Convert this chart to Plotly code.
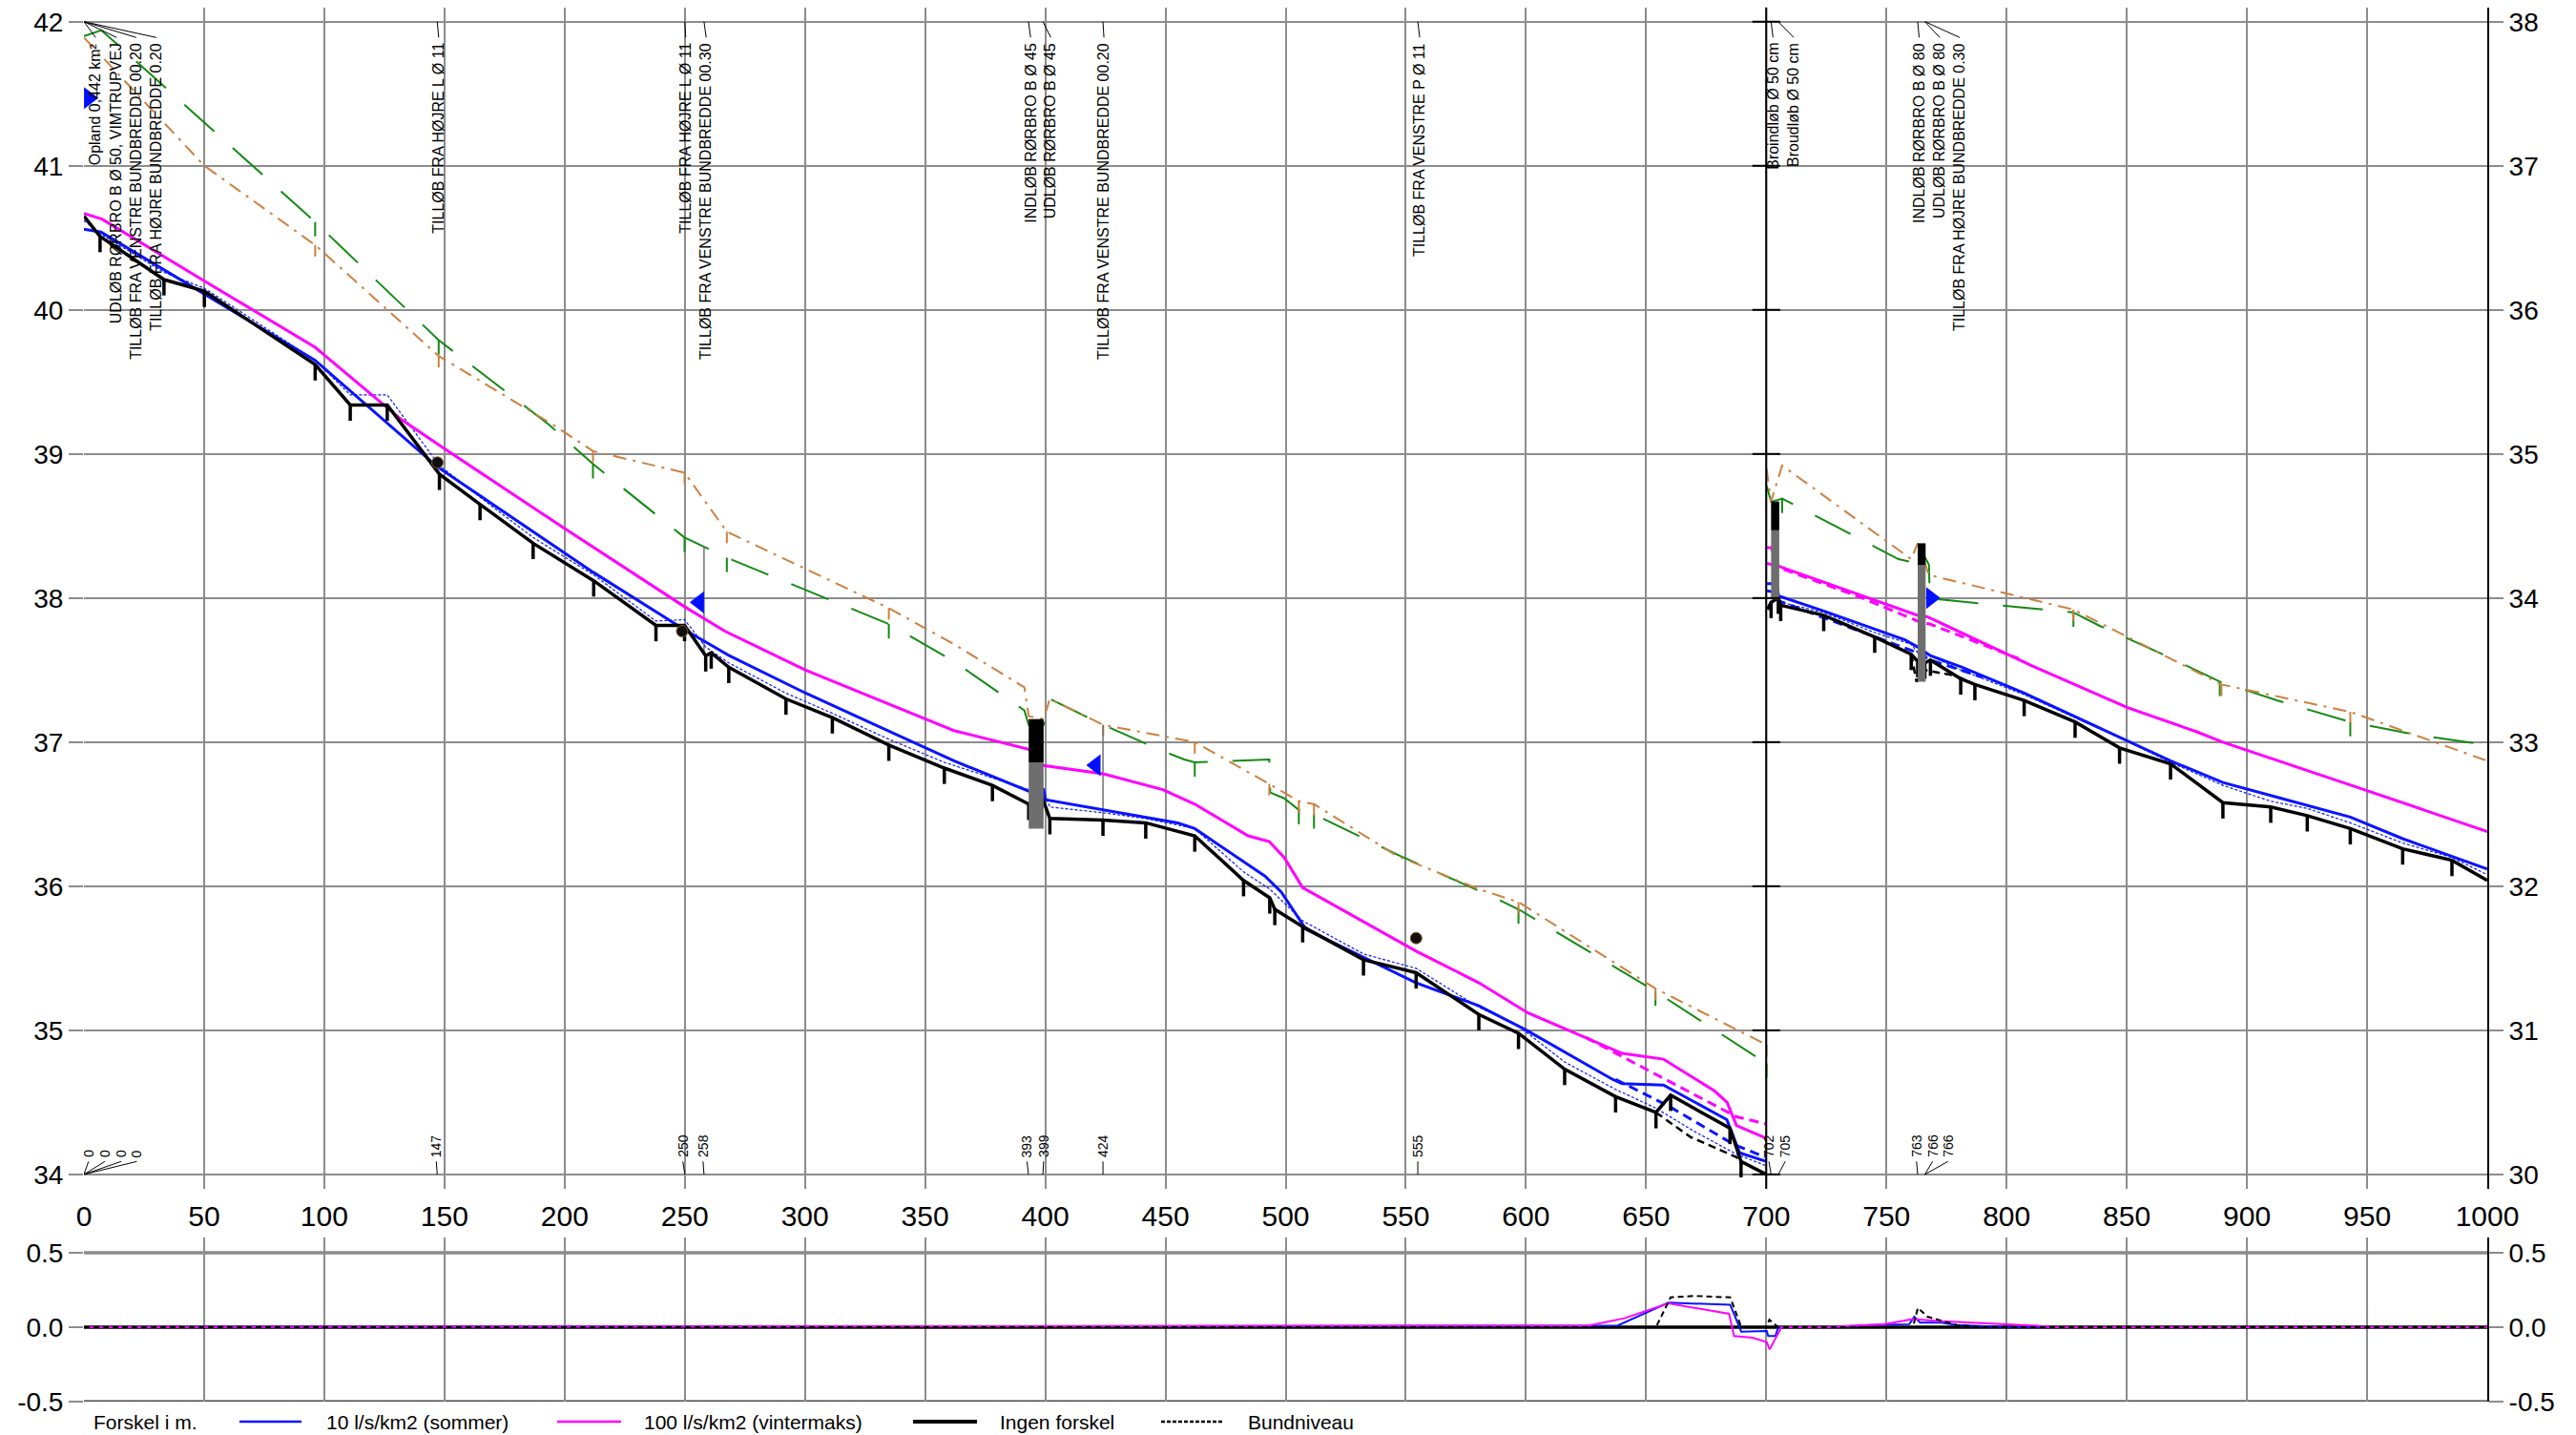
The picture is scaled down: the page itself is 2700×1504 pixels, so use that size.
import plotly.graph_objects as go
import numpy as np

# ---------------- DATA: left sheet (station 0-700, left axis) ----------------
bed_L_x = [0, 6.7, 33.3, 50.1, 96.2, 110.8, 126.2, 147.9, 164.8, 186.9, 212.1, 238.0, 249.9, 258.7, 261.0,
           268.3, 292.1, 311.4, 334.9, 358.0, 378.0, 393.1, 398.4, 401.9, 424.0, 441.8, 462.2, 482.5, 493.4,
           495.5, 507.1, 532.4, 554.3, 580.4, 596.9, 616.1, 637.3, 654.1, 660.2, 684.9, 689.5, 700.0]
bed_L_y = [40.65, 40.51, 40.21, 40.13, 39.62, 39.34, 39.34, 38.86, 38.65, 38.38, 38.12, 37.81, 37.81, 37.60, 37.62,
           37.52, 37.30, 37.17, 36.98, 36.82, 36.70, 36.57, 36.63, 36.47, 36.46, 36.44, 36.35, 36.04, 35.92,
           35.84, 35.72, 35.49, 35.40, 35.11, 34.98, 34.73, 34.54, 34.43, 34.55, 34.32, 34.09, 34.00]

q10_L_x = [0, 7.1, 50.1, 96.2, 147.1, 211.8, 249.9, 268.5, 300.3, 362.0, 393.1, 399.3, 400.2, 424.1, 455.1,
           462.2, 479.9, 491.4, 498.2, 508.5, 554.3, 580.4, 600.3, 636.0, 640.0, 657.2, 683.6, 688.9, 700.1]
q10_L_y = [40.56, 40.54, 40.11, 39.65, 38.91, 38.18, 37.78, 37.60, 37.34, 36.87, 36.66, 36.67, 36.60, 36.53, 36.44,
           36.40, 36.20, 36.07, 35.96, 35.70, 35.33, 35.17, 35.00, 34.66, 34.63, 34.62, 34.38, 34.15, 34.09]

q100_L_x = [0, 7.5, 50.1, 96.2, 101.9, 132.0, 149.7, 199.3, 249.9, 266.7, 300.3, 362.0, 393.1, 398.4, 424.1,
            448.9, 462.2, 484.4, 493.2, 499.4, 507.1, 554.3, 580.4, 600.9, 640.1, 657.2, 678.4, 683.7, 687.6, 700.1]
q100_L_y = [40.67, 40.63, 40.20, 39.74, 39.66, 39.24, 39.04, 38.49, 37.94, 37.77, 37.50, 37.08, 36.95, 36.84, 36.78,
            36.67, 36.57, 36.35, 36.31, 36.20, 35.99, 35.55, 35.33, 35.12, 34.84, 34.80, 34.58, 34.50, 34.34, 34.25]

thin_L_x = [0, 6.7, 33.3, 50.1, 96.2, 110.8, 126.2, 147.9, 164.8, 186.9, 212.1, 238.0, 249.9, 258.7, 268.3,
            292.1, 311.4, 334.9, 358.0, 393.1, 398.4, 401.9, 424.0, 441.8, 462.2, 482.5, 493.4, 507.1, 532.4,
            554.3, 580.4, 596.9, 616.1, 637.3, 654.1, 669.9, 687.6, 700.0]
thin_L_y = [40.62, 40.53, 40.26, 40.15, 39.65, 39.41, 39.41, 38.92, 38.70, 38.42, 38.16, 37.84, 37.85, 37.66, 37.55,
            37.34, 37.20, 37.02, 36.86, 36.67, 36.68, 36.55, 36.51, 36.47, 36.40, 36.10, 35.98, 35.76, 35.53,
            35.43, 35.16, 35.03, 34.78, 34.59, 34.46, 34.30, 34.14, 34.06]

green_L_x = [0, 7.2, 14.7, 50.1, 96.2, 147.6, 193.7, 211.8, 249.9, 267.5, 334.9, 362.0, 391.3, 393.1, 399.3,
             401.9, 424.1, 447.1, 457.8, 462.2, 493.2, 493.6, 499.4, 505.5, 511.8, 546.4, 585.7, 596.9, 626.7,
             653.9, 700.1]
green_L_y = [41.90, 41.94, 41.83, 41.30, 40.61, 39.79, 39.20, 38.93, 38.42, 38.28, 37.82, 37.56, 37.22, 37.12, 37.12,
             37.30, 37.12, 36.95, 36.88, 36.86, 36.88, 36.65, 36.61, 36.53, 36.50, 36.22, 35.93, 35.84, 35.54,
             35.27, 34.77]
green_L_ticks = [96.2, 147.6, 211.8, 249.9, 267.5, 334.9, 462.2, 505.5, 511.8, 596.9, 653.9, 700.1]

brown_L_x = [0, 50.1, 96.2, 147.6, 195.5, 211.8, 249.9, 267.5, 334.9, 362.0, 391.3, 393.1, 399.3, 401.9, 424.1,
             462.2, 493.2, 505.5, 511.8, 546.4, 580.4, 596.9, 653.9, 700.1]
brown_L_y = [41.89, 41.00, 40.45, 39.68, 39.20, 39.02, 38.87, 38.46, 37.93, 37.68, 37.38, 37.18, 37.16, 37.30, 37.12,
             37.00, 36.71, 36.59, 36.57, 36.21, 35.98, 35.89, 35.29, 34.90]
brown_L_ticks = [96.2, 147.6, 211.8, 249.9, 267.5, 334.9, 424.1, 462.2, 493.2, 505.5, 511.8, 596.9, 653.9, 700.1]

bedd_L_x = [654.1, 668.4, 687.6, 690.2]
bedd_L_y = [34.43, 34.26, 34.12, 34.07]
q10d_L_x = [637.3, 659.8, 686.3, 699.4]
q10d_L_y = [34.66, 34.47, 34.21, 34.12]
q100d_L_x = [625.0, 687.6, 700.1]
q100d_L_y = [34.95, 34.40, 34.35]

# ---------------- DATA: right sheet (station 700-1000, right axis) ----------------
bed_R_x = [700.5, 702.0, 705.0, 706.0, 723.9, 745.1, 760.3, 763.0, 766.0, 768.3, 780.9, 786.8, 807.3, 828.5,
           847.0, 868.2, 890.0, 909.9, 925.1, 943.0, 964.8, 985.3, 1000.0]
bed_R_y = [33.92, 33.97, 34.00, 33.95, 33.88, 33.73, 33.61, 33.56, 33.55, 33.57, 33.44, 33.40, 33.29, 33.14,
           32.96, 32.85, 32.58, 32.55, 32.49, 32.40, 32.26, 32.18, 32.04]

q10_R_x = [700.3, 702.0, 704.5, 705.2, 706.0, 723.9, 757.7, 763.0, 768.3, 781.5, 807.3, 828.5, 838.4, 868.2,
           890.0, 909.9, 943.0, 964.8, 985.3, 1000.0]
q10_R_y = [34.10, 34.10, 34.08, 34.01, 34.01, 33.91, 33.71, 33.66, 33.60, 33.52, 33.34, 33.18, 33.10, 32.87,
           32.72, 32.63, 32.48, 32.33, 32.21, 32.12]

q100_R_x = [700.3, 705.4, 763.0, 767.0, 810.6, 838.4, 850.3, 879.4, 890.0, 947.0, 1000.0]
q100_R_y = [34.24, 34.22, 33.88, 33.87, 33.53, 33.33, 33.24, 33.07, 33.00, 32.68, 32.38]

thin_R_x = [702.0, 705.0, 706.0, 723.9, 745.1, 760.3, 763.0, 768.3, 780.9, 807.3, 828.5, 847.0, 868.2, 890.0,
            909.9, 925.1, 943.0, 964.8, 985.3, 1000.0]
thin_R_y = [34.02, 33.98, 33.97, 33.90, 33.76, 33.68, 33.62, 33.60, 33.50, 33.33, 33.17, 33.03, 32.86, 32.70,
            32.59, 32.54, 32.44, 32.30, 32.20, 32.08]

green_R_x = [700.1, 702.0, 704.6, 706.6, 712.6, 755.0, 760.3, 763.0, 767.7, 768.0, 772.4, 827.8, 838.4, 866.2,
             888.7, 912.5, 943.0, 970.8, 1000.0]
green_R_y = [34.78, 34.67, 34.68, 34.69, 34.64, 34.27, 34.25, 34.38, 34.23, 33.99, 33.99, 33.90, 33.81, 33.60,
             33.42, 33.29, 33.14, 33.05, 32.98]
green_R_ticks = [706.6, 827.8, 888.7, 943.0]

brown_R_x = [700.1, 702.0, 706.6, 760.3, 763.0, 767.7, 827.8, 838.4, 889.4, 943.0, 1000.0]
brown_R_y = [34.90, 34.67, 34.92, 34.27, 34.38, 34.16, 33.92, 33.83, 33.40, 33.21, 32.87]
brown_R_ticks = [827.8, 889.4, 943.0]

q100d_R_x = [700.3, 702.0, 704.5, 705.5, 740.0, 763.0, 768.0, 805.0]
q100d_R_y = [34.35, 34.35, 34.25, 34.21, 34.00, 33.84, 33.82, 33.58]
q10d_R_x = [700.3, 704.0, 705.2, 763.0, 768.3, 790.0]
q10d_R_y = [34.05, 34.04, 33.98, 33.62, 33.57, 33.45]
bedd_R_x = [760.3, 762.5, 766.0, 779.0, 786.8]
bedd_R_y = [33.61, 33.42, 33.50, 33.46, 33.40]

# structures (culverts / bridge): x0, x1, top, split (black/grey), bottom, axis
struct_x0 = [393.1, 702.0, 763.0]
struct_x1 = [399.3, 705.4, 766.3]
struct_top = [37.16, 34.67, 34.38]
struct_mid = [36.86, 34.47, 34.23]
struct_bot = [36.40, 33.99, 33.42]
struct_axis = ["y", "y2", "y2"]

# markers
triL_x = [2.0, 256.0, 421.0]
triL_y = [41.47, 37.97, 36.84]
triL_sym = ["triangle-right", "triangle-left", "triangle-left"]
triR_x = [768.5]
triR_y = [34.00]
circ_x = [147.1, 248.9, 554.3]
circ_y = [38.94, 37.77, 35.64]
stline_x = [258.0, 424.0]
stline_top = [38.36, 37.12]
stline_bot = [37.60, 36.46]

# station labels
top_station = [0, 0, 0, 0, 147, 250, 258, 393, 399, 424, 555, 702, 705, 763, 766, 766]
top_text_x = [4.9, 13.6, 21.8, 30.1, 147.6, 250.4, 258.9, 393.9, 402.3, 424.4, 555.8, 702.8, 711.4, 763.6, 772.2, 780.5]
top_text = ["Opland 0,442 km²", "UDLØB RØRBRO B Ø 50, VIMTRUPVEJ", "TILLØB FRA VENSTRE BUNDBREDDE 00.20",
            "TILLØB FRA HØJRE BUNDBREDDE 0.20", "TILLØB FRA HØJRE L Ø 11", "TILLØB FRA HØJRE L Ø 11",
            "TILLØB FRA VENSTRE BUNDBREDDE 00.30", "INDLØB RØRBRO B Ø 45", "UDLØB RØRBRO B Ø 45",
            "TILLØB FRA VENSTRE BUNDBREDDE 00.20", "TILLØB FRA VENSTRE P Ø 11", "Broindløb Ø 50 cm",
            "Broudløb Ø 50 cm", "INDLØB RØRBRO B Ø 80", "UDLØB RØRBRO B Ø 80", "TILLØB FRA HØJRE BUNDBREDDE 0.30"]
bot_station = [0, 0, 0, 0, 147, 250, 258, 393, 399, 424, 555, 702, 705, 763, 766, 766]
bot_text_x = [1.9, 8.7, 15.5, 22.0, 146.6, 249.2, 257.6, 392.4, 399.3, 424.0, 555.0, 701.1, 707.9, 762.5, 769.2, 775.6]
bot_text = ["0", "0", "0", "0", "147", "250", "258", "393", "399", "424", "555", "702", "705", "763", "766", "766"]

# ---------------- DATA: difference panel ----------------
diff10_x = [0, 638.0, 659.3, 685.0, 689.6, 700.2, 700.8, 703.8, 705.0, 725.0, 742.8, 759.5, 761.6, 764.0,
            772.9, 779.2, 800.6, 1000]
diff10_y = [0, 0.01, 0.165, 0.15, -0.03, -0.025, -0.06, -0.06, 0, 0, 0.015, 0.02, 0.07, 0.03, 0.03, 0.015, 0, 0]
diff100_x = [0, 625.8, 641.0, 659.3, 684.5, 686.6, 694.2, 700.2, 701.4, 703.7, 706.3, 725.3, 748.9, 761.0,
             773.0, 812.6, 818.6, 1000]
diff100_y = [0, 0.01, 0.06, 0.16, 0.09, -0.06, -0.07, -0.10, -0.15, -0.08, 0, 0, 0.02, 0.055, 0.04, 0.01, 0, 0]
diffbed_x = [0, 654.1, 660.2, 669.8, 685.0, 689.6, 700.0, 701.3, 705.0, 761.0, 763.1, 767.1, 779.2, 790.0, 1000]
diffbed_y = [0, 0, 0.20, 0.21, 0.20, 0, 0, 0.05, 0, 0, 0.13, 0.07, 0.015, 0, 0]

x_ticks = list(range(0, 1001, 50))
yL_ticks = list(range(34, 43))
yR_ticks = list(range(30, 39))
d_ticks = [-0.5, 0.0, 0.5]
d_ticktext = ["-0.5", "0.0", "0.5"]

legend_labels = ["10 l/s/km2 (sommer)", "100 l/s/km2 (vintermaks)", "Ingen forskel", "Bundniveau"]

# ---------------- STYLE ----------------
GRID = "#8c8c8c"
BLUE = "#0a14ff"
MAG = "#ff00ff"
GREEN = "#138a13"
BROWN = "#cd8040"
FONT = "Arial, Liberation Sans, sans-serif"
W, H = 2700, 1504
ML, MR = 88, 93

fig = go.Figure()


def line(x, y, color, width, dash="solid", yaxis="y", xaxis="x"):
    fig.add_trace(go.Scatter(x=x, y=y, mode="lines", line=dict(color=color, width=width, dash=dash),
                             xaxis=xaxis, yaxis=yaxis, hoverinfo="skip", showlegend=False))


def ticks(xs, ys, length, color, width, yaxis="y"):
    X, Y = [], []
    for a, b in zip(xs, ys):
        X += [a, a, None]
        Y += [b, b - length, None]
    line(X, Y, color, width, yaxis=yaxis)


GDASH = "42px,26px"
BDASH = "14px,7px,3px,7px"

for ax, gx, gy, gt, bx, by, bt in [("y", green_L_x, green_L_y, green_L_ticks, brown_L_x, brown_L_y, brown_L_ticks),
                                  ("y2", green_R_x, green_R_y, green_R_ticks, brown_R_x, brown_R_y, brown_R_ticks)]:
    line(gx, gy, GREEN, 2, GDASH, ax)
    ticks(gt, np.interp(gt, gx, gy), 0.1, GREEN, 2, ax)
    line(bx, by, BROWN, 2, BDASH, ax)
    ticks(bt, np.interp(bt, bx, by), 0.08, BROWN, 2, ax)

# station lines
X, Y = [], []
for a, t, b in zip(stline_x, stline_top, stline_bot):
    X += [a, a, None]
    Y += [t, b, None]
line(X, Y, "#707070", 1.5)

for ax, tx, ty in [("y", thin_L_x, thin_L_y), ("y2", thin_R_x, thin_R_y)]:
    line(tx, ty, BLUE, 1.2, "3px,2px", ax)

for ax, mx, my, md_x, md_y in [("y", q100_L_x, q100_L_y, q100d_L_x, q100d_L_y),
                               ("y2", q100_R_x, q100_R_y, q100d_R_x, q100d_R_y)]:
    line(mx, my, MAG, 3, "solid", ax)
    line(md_x, md_y, MAG, 3, "10px,6px", ax)

for ax, qx, qy, qd_x, qd_y in [("y", q10_L_x, q10_L_y, q10d_L_x, q10d_L_y),
                               ("y2", q10_R_x, q10_R_y, q10d_R_x, q10d_R_y)]:
    line(qx, qy, BLUE, 3, "solid", ax)
    line(qd_x, qd_y, BLUE, 3, "10px,6px", ax)

for ax, bx, by, bd_x, bd_y in [("y", bed_L_x, bed_L_y, bedd_L_x, bedd_L_y),
                               ("y2", bed_R_x, bed_R_y, bedd_R_x, bedd_R_y)]:
    line(bx, by, "black", 3.5, "solid", ax)
    ticks(bx[1:-1], by[1:-1], 0.11, "black", 3.5, ax)
    line(bd_x, bd_y, "black", 2.5, "8px,5px", ax)

# markers
fig.add_trace(go.Scatter(x=triL_x, y=triL_y, mode="markers", yaxis="y",
                         marker=dict(symbol=triL_sym, size=20, color="#0010ff", line=dict(width=0)),
                         hoverinfo="skip", showlegend=False))
fig.add_trace(go.Scatter(x=triR_x, y=triR_y, mode="markers", yaxis="y2",
                         marker=dict(symbol="triangle-right", size=20, color="#0010ff", line=dict(width=0)),
                         hoverinfo="skip", showlegend=False))
fig.add_trace(go.Scatter(x=circ_x, y=circ_y, mode="markers", yaxis="y",
                         marker=dict(symbol="circle", size=12, color="#101010", line=dict(width=1, color="#8a5a2a")),
                         hoverinfo="skip", showlegend=False))

# difference panel
line([0, 1000], [0, 0], "black", 3.5, "solid", "y3", "x2")
line(diff10_x, diff10_y, BLUE, 2, "solid", "y3", "x2")
line(diff100_x, diff100_y, MAG, 2, "solid", "y3", "x2")
line(diffbed_x, diffbed_y, "black", 2, "6px,4px", "y3", "x2")
fig.add_trace(go.Scatter(x=[0], y=[0], mode="markers", marker=dict(opacity=0), xaxis="x2", yaxis="y4",
                         hoverinfo="skip", showlegend=False))

shapes = []
# structures
for x0, x1, t, m, b, ax in zip(struct_x0, struct_x1, struct_top, struct_mid, struct_bot, struct_axis):
    shapes.append(dict(type="rect", xref="x", yref=ax, x0=x0, x1=x1, y0=m, y1=b, fillcolor="#6e6e6e",
                       line=dict(width=0), layer="above"))
    shapes.append(dict(type="rect", xref="x", yref=ax, x0=x0, x1=x1, y0=t, y1=m, fillcolor="black",
                       line=dict(width=0), layer="above"))
# sheet divider at 700
shapes.append(dict(type="line", xref="x", yref="y", x0=700, x1=700, y0=33.9, y1=42.1,
                   line=dict(color="black", width=2), layer="above"))
for v in yL_ticks:
    shapes.append(dict(type="line", xref="x", yref="y", x0=700 - 5.8, x1=700 + 5.8, y0=v, y1=v,
                       line=dict(color="black", width=2), layer="above"))
# dark +/-0.5 lines in difference panel
for v in [-0.5, 0.5]:
    shapes.append(dict(type="line", xref="x2", yref="y3", x0=0, x1=1000, y0=v, y1=v,
                       line=dict(color="#4a4a4a", width=3), layer="below"))
# leader lines for labels
for s, tx in zip(top_station, top_text_x):
    shapes.append(dict(type="line", xref="x", yref="y", x0=s, x1=tx, y0=42.0, y1=41.89,
                       line=dict(color="black", width=1)))
for s, tx in zip(bot_station, bot_text_x):
    shapes.append(dict(type="line", xref="x", yref="y", x0=s, x1=tx, y0=34.0, y1=34.09,
                       line=dict(color="black", width=1)))

annotations = []
for tx, t in zip(top_text_x, top_text):
    annotations.append(dict(x=tx, y=41.866, xref="x", yref="y", text=t, textangle=-90, showarrow=False,
                            xanchor="center", yanchor="top", font=dict(size=16, family=FONT, color="black")))
for tx, t in zip(bot_text_x, bot_text):
    annotations.append(dict(x=tx, y=34.105, xref="x", yref="y", text=t, textangle=-90, showarrow=False,
                            xanchor="center", yanchor="bottom", font=dict(size=14, family=FONT, color="black")))


# legend (drawn manually)
def px(x):
    return (x - ML) / (W - ML - MR)


def py(y):
    return 1 - y / H


LY = 1490
annotations.append(dict(x=px(96), y=py(LY), xref="paper", yref="paper", text="Forskel i m.", showarrow=False,
                        xanchor="left", yanchor="middle", font=dict(size=21, family=FONT, color="black")))
leg_items = [(251, 316, 340, BLUE, "solid", 2.5), (584, 651, 673, MAG, "solid", 2.5),
             (957, 1024, 1046, "black", "solid", 4), (1217, 1282, 1306, "black", "4px,2px", 2.5)]
for (a, b, t, c, d, w), lab in zip(leg_items, legend_labels):
    shapes.append(dict(type="line", xref="paper", yref="paper", x0=px(a), x1=px(b), y0=py(LY), y1=py(LY),
                       line=dict(color=c, width=w, dash=d)))
    annotations.append(dict(x=px(t), y=py(LY), xref="paper", yref="paper", text=lab, showarrow=False,
                            xanchor="left", yanchor="middle", font=dict(size=21, family=FONT, color="black")))

main_dom = [1 - 1246 / H, 1 - 7.6 / H]
diff_dom = [1 - 1469 / H, 1 - 1297.4 / H]

axis_common = dict(showgrid=True, gridcolor=GRID, gridwidth=2, zeroline=False, automargin=False)
fig.update_layout(
    width=W, height=H, template="none", showlegend=False,
    margin=dict(l=ML, r=MR, t=0, b=0, pad=0),
    paper_bgcolor="white", plot_bgcolor="white",
    font=dict(family=FONT, color="black"),
    shapes=shapes, annotations=annotations,
    xaxis=dict(domain=[0, 1], range=[0, 1000], anchor="y", tickvals=x_ticks, ticks="", showline=False,
               tickfont=dict(size=30), ticklabelstandoff=8, **axis_common),
    xaxis2=dict(domain=[0, 1], range=[0, 1000], anchor="y3", tickvals=x_ticks, ticks="", showline=False,
                showticklabels=False, **axis_common),
    yaxis=dict(domain=main_dom, range=[33.9, 42.1], anchor="x", tickvals=yL_ticks, ticks="outside", ticklen=15,
               tickwidth=2, tickcolor=GRID, showline=False, tickfont=dict(size=28), **axis_common),
    yaxis2=dict(overlaying="y", side="right", anchor="x", range=[29.9, 38.1], tickvals=yR_ticks,
                ticks="outside", ticklen=15, tickwidth=2, tickcolor=GRID, showgrid=False, zeroline=False,
                showline=True, linecolor="black", linewidth=2, tickfont=dict(size=28), automargin=False),
    yaxis3=dict(domain=diff_dom, range=[-0.5, 0.6], anchor="x2", tickvals=d_ticks, ticktext=d_ticktext,
                ticks="outside", ticklen=15, tickwidth=2, tickcolor=GRID, showline=False,
                tickfont=dict(size=28), **axis_common),
    yaxis4=dict(overlaying="y3", side="right", anchor="x2", range=[-0.5, 0.6], tickvals=d_ticks,
                ticktext=d_ticktext, ticks="outside", ticklen=15, tickwidth=2, tickcolor=GRID, showgrid=False,
                zeroline=False, showline=True, linecolor="black", linewidth=2, tickfont=dict(size=28),
                automargin=False),
)

fig.write_html("out.html", config={"displayModeBar": False},
               post_script="document.body.style.margin='0';document.body.style.overflow='hidden';")
